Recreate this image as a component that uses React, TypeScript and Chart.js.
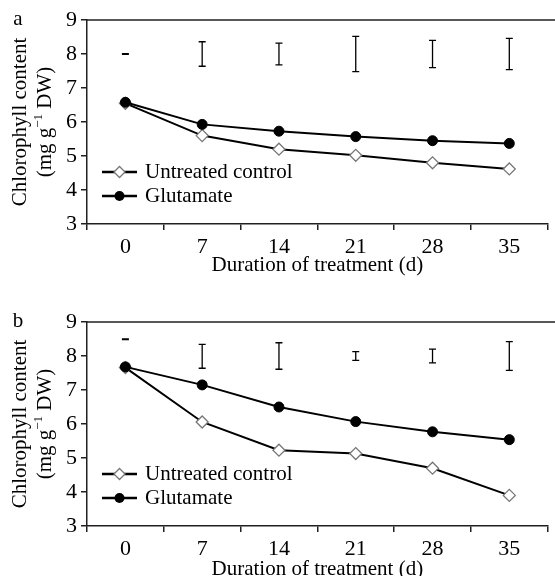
import React, { useEffect, useRef } from 'react';
import { Chart, registerables } from 'chart.js';
Chart.register(...registerables);

const days = ['0', '7', '14', '21', '28', '35'];
const yMin = 3;
const yMax = 9;

const controlA = [6.55, 5.6, 5.2, 5.02, 4.8, 4.62];
const glutamateA = [6.58, 5.93, 5.73, 5.57, 5.45, 5.37];
const errLowA = [7.99, 7.64, 7.68, 7.48, 7.6, 7.54];
const errHighA = [8.01, 8.36, 8.32, 8.52, 8.4, 8.46];

const controlB = [7.66, 6.06, 5.23, 5.13, 4.7, 3.9];
const glutamateB = [7.68, 7.15, 6.5, 6.07, 5.77, 5.54];
const errLowB = [8.48, 7.64, 7.61, 7.87, 7.8, 7.58];
const errHighB = [8.5, 8.34, 8.39, 8.13, 8.2, 8.42];

const legendLabels = ['Untreated control', 'Glutamate'];
const yTitle1 = 'Chlorophyll content';
const xTitle = 'Duration of treatment (d)';

const FONT = "'Liberation Serif', 'Times New Roman', serif";
const AX = '#231f20';

type PanelProps = {
  letter: string;
  control: number[];
  glutamate: number[];
  errLow: number[];
  errHigh: number[];
  top: number;
  height: number;
  padTop: number;
  xAxisH: number;
  titlePad: number;
};

function Panel(p: PanelProps) {
  const ref = useRef<HTMLCanvasElement | null>(null);
  useEffect(() => {
    if (!ref.current) return;
    const extras = {
      id: 'extras',
      afterDatasetsDraw(chart: any) {
        const ctx = chart.ctx;
        const ca = chart.chartArea;
        const xs = chart.scales.x;
        const ys = chart.scales.y;
        ctx.save();
        // error bars
        ctx.strokeStyle = '#000';
        ctx.lineWidth = 1.3;
        for (let i = 0; i < days.length; i++) {
          const x = xs.getPixelForValue(i);
          const y1 = ys.getPixelForValue(p.errLow[i]);
          const y2 = ys.getPixelForValue(p.errHigh[i]);
          ctx.beginPath();
          ctx.moveTo(x, y1);
          ctx.lineTo(x, y2);
          ctx.moveTo(x - 3.5, y1);
          ctx.lineTo(x + 3.5, y1);
          ctx.moveTo(x - 3.5, y2);
          ctx.lineTo(x + 3.5, y2);
          ctx.stroke();
        }
        // top frame line
        ctx.strokeStyle = AX;
        ctx.lineWidth = 1.5;
        ctx.beginPath();
        ctx.moveTo(ca.left, ca.top);
        ctx.lineTo(chart.width, ca.top);
        ctx.stroke();
        // legend
        const lx = ca.left + 15;
        const rows = [ca.top + 152, ca.top + 176];
        const ds = [chart.data.datasets[1], chart.data.datasets[0]];
        rows.forEach((ry: number, k: number) => {
          const d: any = ds[k];
          ctx.strokeStyle = '#000';
          ctx.lineWidth = 2.5;
          ctx.beginPath();
          ctx.moveTo(lx, ry);
          ctx.lineTo(lx + 35, ry);
          ctx.stroke();
          const cx = lx + 17.5;
          if (k === 0) {
            ctx.fillStyle = '#fff';
            ctx.strokeStyle = d.pointBorderColor;
            ctx.lineWidth = 1.3;
            ctx.beginPath();
            ctx.moveTo(cx - 5.5, ry);
            ctx.lineTo(cx, ry - 5.5);
            ctx.lineTo(cx + 5.5, ry);
            ctx.lineTo(cx, ry + 5.5);
            ctx.closePath();
            ctx.fill();
            ctx.stroke();
          } else {
            ctx.fillStyle = '#000';
            ctx.beginPath();
            ctx.arc(cx, ry, 5, 0, Math.PI * 2);
            ctx.fill();
          }
          ctx.fillStyle = '#000';
          ctx.font = `21px ${FONT}`;
          ctx.textAlign = 'left';
          ctx.textBaseline = 'middle';
          ctx.fillText(legendLabels[k], lx + 43, ry);
        });
        ctx.restore();
      },
      afterDraw(chart: any) {
        const ctx = chart.ctx;
        const ca = chart.chartArea;
        const cy = (ca.top + ca.bottom) / 2;
        ctx.save();
        ctx.fillStyle = '#000';
        ctx.font = `21px ${FONT}`;
        ctx.textAlign = 'center';
        ctx.textBaseline = 'middle';
        ctx.fillText(p.letter, 18, ca.top - 1);
        // y title line 1
        ctx.save();
        ctx.translate(20, cy);
        ctx.rotate(-Math.PI / 2);
        ctx.fillText(yTitle1, 0, 0);
        ctx.restore();
        // y title line 2 with superscript
        ctx.save();
        ctx.translate(45, cy);
        ctx.rotate(-Math.PI / 2);
        ctx.textAlign = 'left';
        const fBig = `21px ${FONT}`;
        const fSmall = `13px ${FONT}`;
        const a = '(mg g';
        const s = '\u22121';
        const b = ' DW)';
        ctx.font = fBig;
        const wa = ctx.measureText(a).width;
        const wb = ctx.measureText(b).width;
        ctx.font = fSmall;
        const ws = ctx.measureText(s).width;
        let x0 = -(wa + ws + wb) / 2;
        ctx.font = fBig;
        ctx.fillText(a, x0, 0);
        x0 += wa;
        ctx.font = fSmall;
        ctx.fillText(s, x0, -6);
        x0 += ws;
        ctx.font = fBig;
        ctx.fillText(b, x0, 0);
        ctx.restore();
        ctx.restore();
      },
    };

    const chart = new Chart(ref.current, {
      type: 'line',
      data: {
        labels: days,
        datasets: [
          {
            label: legendLabels[1],
            data: p.glutamate,
            borderColor: '#000',
            borderWidth: 2,
            pointStyle: 'circle',
            pointRadius: 5,
            pointBackgroundColor: '#000',
            pointBorderColor: '#000',
            pointBorderWidth: 1,
            tension: 0,
          },
          {
            label: legendLabels[0],
            data: p.control,
            borderColor: '#000',
            borderWidth: 2,
            pointStyle: 'rectRot',
            pointRadius: 6,
            pointBackgroundColor: '#fff',
            pointBorderColor: '#777',
            pointBorderWidth: 1.3,
            tension: 0,
          },
        ],
      },
      options: {
        responsive: false,
        animation: false,
        devicePixelRatio: 1,
        layout: { padding: { top: p.padTop, left: 0, right: 1, bottom: 0 } },
        plugins: { legend: { display: false }, tooltip: { enabled: false } },
        scales: {
          x: {
            type: 'category',
            offset: true,
            grid: {
              offset: true,
              drawOnChartArea: false,
              drawTicks: true,
              tickLength: 6,
              color: AX,
              lineWidth: 1.5,
            },
            border: { display: true, color: AX, width: 1.5 },
            ticks: {
              color: '#000',
              font: { family: FONT, size: 22 },
              padding: 4,
              maxRotation: 0,
            },
            title: {
              display: true,
              text: xTitle,
              color: '#000',
              font: { family: FONT, size: 21, lineHeight: 1 },
              padding: { top: 0, bottom: p.titlePad },
            },
            afterFit(scale: any) {
              scale.height = p.xAxisH;
            },
          },
          y: {
            min: yMin,
            max: yMax,
            grid: {
              drawOnChartArea: false,
              drawTicks: true,
              tickLength: 6,
              color: AX,
              lineWidth: 1.5,
            },
            border: { display: true, color: AX, width: 1.5 },
            ticks: {
              stepSize: 1,
              color: '#000',
              font: { family: FONT, size: 22 },
              padding: 4,
            },
            afterFit(scale: any) {
              scale.width = 87;
            },
          },
        },
      },
      plugins: [extras],
    });
    return () => chart.destroy();
  }, []);
  return (
    <div style={{ position: 'absolute', left: 0, top: p.top, width: 555, height: p.height }}>
      <canvas ref={ref} width={555} height={p.height} style={{ width: 555, height: p.height, display: 'block' }} />
    </div>
  );
}

export default function App() {
  return (
    <div style={{ position: 'absolute', left: 0, top: 0, width: 555, height: 576, overflow: 'hidden', background: '#fff' }}>
      <Panel letter="a" control={controlA} glutamate={glutamateA} errLow={errLowA} errHigh={errHighA}
        top={0} height={288} padTop={20} xAxisH={64} titlePad={12} />
      <Panel letter="b" control={controlB} glutamate={glutamateB} errLow={errLowB} errHigh={errHighB}
        top={288} height={300} padTop={34} xAxisH={62} titlePad={8} />
    </div>
  );
}
